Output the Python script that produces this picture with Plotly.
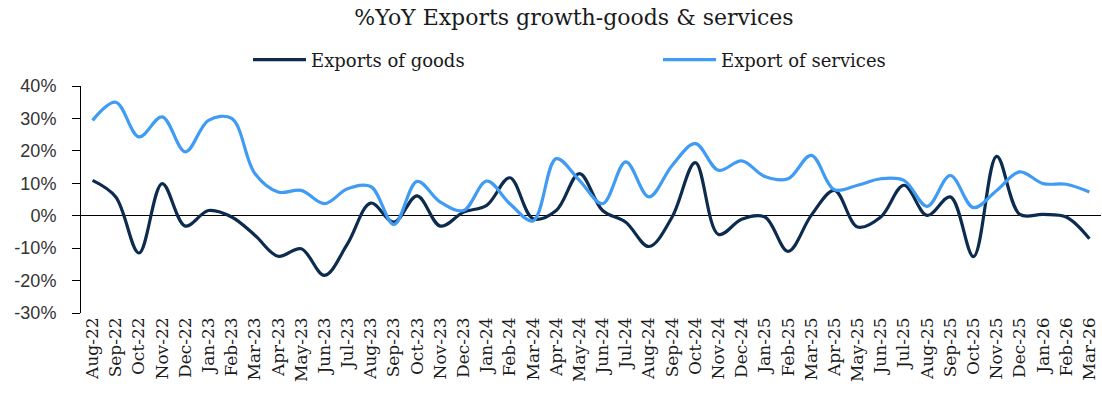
import plotly.graph_objects as go

months = ["Aug-22","Sep-22","Oct-22","Nov-22","Dec-22","Jan-23","Feb-23","Mar-23","Apr-23","May-23",
          "Jun-23","Jul-23","Aug-23","Sep-23","Oct-23","Nov-23","Dec-23","Jan-24","Feb-24","Mar-24",
          "Apr-24","May-24","Jun-24","Jul-24","Aug-24","Sep-24","Oct-24","Nov-24","Dec-24","Jan-25",
          "Feb-25","Mar-25","Apr-25","May-25","Jun-25","Jul-25","Aug-25","Sep-25","Oct-25","Nov-25",
          "Dec-25","Jan-26","Feb-26","Mar-26"]

goods = [10.9, 5.8, -11.5, 9.9, -3.2, 1.6, -0.4, -6.0, -12.5, -10.2,
         -18.4, -8.6, 3.9, -2.0, 6.1, -3.2, 1.1, 3.2, 11.7, -0.9,
         1.6, 13.0, 1.6, -2.0, -9.5, -0.4, 16.4, -5.8, -1.1, -0.4,
         -11.0, 0.1, 7.8, -3.5, -0.4, 9.4, 0.1, 5.8, -12.6, 18.3,
         0.4, 0.4, -0.4, -7.1]

services = [29.4, 35.0, 24.3, 30.5, 19.7, 29.4, 30.0, 13.0, 7.3, 7.8,
            3.7, 8.3, 9.0, -2.7, 10.6, 4.2, 1.6, 10.7, 3.7, -1.6,
            17.6, 10.9, 3.7, 16.6, 5.8, 15.5, 22.2, 14.0, 16.9, 12.1,
            11.4, 18.6, 8.0, 9.4, 11.4, 10.9, 2.9, 12.4, 2.5, 7.8,
            13.5, 9.9, 9.7, 7.3]

y_ticks = [-30, -20, -10, 0, 10, 20, 30, 40]
y_ticklabels = [f"{v}%" for v in y_ticks]

SERIF = "DejaVu Serif"
W, H = 1102, 401
L, R, T, B = 81, 1, 86, 88
pw = W - L - R

def px_to_paper(x):
    return (x - L) / pw

fig = go.Figure()
fig.add_trace(go.Scatter(
    x=months, y=goods, name="Exports of goods", mode="lines",
    line=dict(color="#0C2B4E", width=3.2, shape="spline", smoothing=1.0),
    legend="legend", showlegend=True))
fig.add_trace(go.Scatter(
    x=months, y=services, name="Export of services", mode="lines",
    line=dict(color="#3F9BF3", width=3.2, shape="spline", smoothing=1.0),
    legend="legend2", showlegend=True))

leg_common = dict(orientation="h", yref="container", y=1 - 60/H, yanchor="middle",
                  xanchor="left", font=dict(family=SERIF, size=18, color="#1a1a1a"),
                  bgcolor="rgba(0,0,0,0)", itemwidth=53, borderwidth=0,
                  tracegroupgap=0, itemclick=False, itemdoubleclick=False)

fig.update_layout(
    width=W, height=H, showlegend=True,
    margin=dict(l=L, r=R, t=T, b=B, autoexpand=False),
    paper_bgcolor="white", plot_bgcolor="white",
    title=dict(text="%YoY Exports growth-goods & services",
               font=dict(family=SERIF, size=22, color="#1a1a1a"),
               xref="paper", x=px_to_paper(574), xanchor="center",
               yref="container", y=1 - 17/H, yanchor="middle"),
    legend=dict(x=px_to_paper(253 - 5), **leg_common),
    legend2=dict(x=px_to_paper(663 - 5), **leg_common),
    xaxis=dict(type="category", range=[-0.5, len(months) - 0.5],
               showgrid=False, showline=False, zeroline=False, ticks="",
               tickangle=-90, automargin=False,
               tickfont=dict(family=SERIF, size=17, color="#1a1a1a")),
    yaxis=dict(range=[-30, 40], tickvals=y_ticks, ticktext=y_ticklabels,
               showgrid=False, showline=True, linecolor="#000", linewidth=1,
               ticks="outside", ticklen=8, tickcolor="#000", tickwidth=1,
               zeroline=True, zerolinecolor="#000", zerolinewidth=1.2,
               ticklabelstandoff=12, automargin=False,
               tickfont=dict(family="Liberation Sans", size=18, color="#333")),
)

fig.write_html("out.html", config={"displayModeBar": False},
               post_script="document.body.style.margin='0px';")
